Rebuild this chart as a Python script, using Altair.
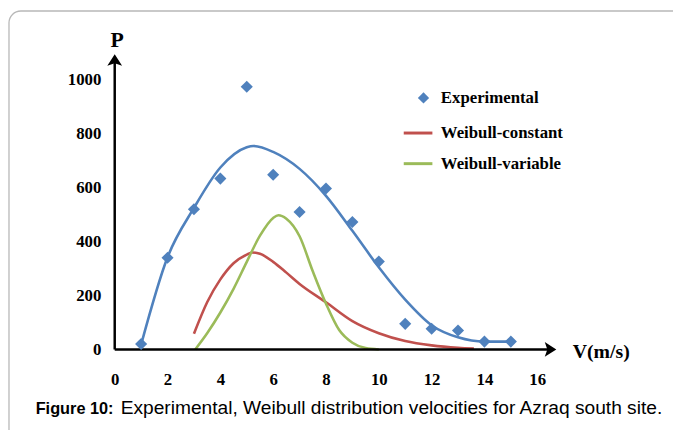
import altair as alt
import pandas as pd

# ---- data ----
exp_v = [1, 2, 3, 4, 5, 6, 7, 8, 9, 10, 11, 12, 13, 14, 15]
exp_p = [20, 340, 520, 634, 975, 648, 510, 597, 473, 326, 95, 77, 70, 29, 29]

fit_v = [1, 2, 3, 4, 5, 5.25, 6, 7, 8, 9, 10, 11, 12, 13, 14, 15]
fit_p = [18, 342, 525, 675, 750, 755, 733, 670, 570, 440, 305, 185, 90, 45, 29, 29]

wc_v = [3, 3.5, 4, 4.5, 5, 5.2, 5.5, 6, 6.5, 7, 8, 9, 10, 11, 12, 13, 13.6]
wc_p = [58, 175, 260, 320, 352, 360, 355, 325, 285, 243, 175, 105, 60, 31, 15, 6, 3]

wv_v = [3.05, 3.5, 4, 4.5, 5, 5.5, 6, 6.2, 6.5, 7, 7.5, 8, 8.5, 9, 9.5, 10]
wv_p = [0, 60, 137, 225, 325, 422, 488, 498, 485, 420, 290, 170, 72, 25, 5, 0]

x_ticks = [0, 2, 4, 6, 8, 10, 12, 14, 16]
y_ticks = [0, 200, 400, 600, 800, 1000]

names = ["Experimental", "Weibull-constant", "Weibull-variable"]
BLUE, RED, GREEN = "#4F81BD", "#C0504D", "#9BBB59"

exp_df = pd.DataFrame({"v": exp_v, "p": exp_p, "kind": names[0]})
fit_df = pd.DataFrame({"v": fit_v, "p": fit_p})
wb_df = pd.concat([
    pd.DataFrame({"v": wc_v, "p": wc_p, "series": names[1]}),
    pd.DataFrame({"v": wv_v, "p": wv_p, "series": names[2]}),
])

SERIF = "Liberation Serif"
SANS = "Liberation Sans"

xscale = alt.Scale(domain=[0, 16.8], nice=False, zero=False)
yscale = alt.Scale(domain=[0, 1100], nice=False)
xaxis = alt.Axis(values=x_ticks, format="d", domain=False, ticks=False, tickSize=0, grid=False,
                 labelFont=SERIF, labelFontWeight="bold", labelFontSize=17, labelColor="black",
                 labelPadding=22, labelFlush=False, labelOverlap=False,
                 title="V(m/s)", titleX=463, titleY=8, titleAlign="left", titleBaseline="alphabetic",
                 titleAngle=0, titleFont=SERIF, titleFontWeight="bold", titleFontSize=20, titleColor="black")
yaxis = alt.Axis(values=y_ticks, format="d", domain=False, ticks=False, tickSize=0, grid=False,
                 labelFont=SERIF, labelFontWeight="bold", labelFontSize=17, labelColor="black",
                 labelPadding=14, labelFlush=False, labelOverlap=False,
                 title="P", titleX=2, titleY=-7, titleAlign="center", titleBaseline="alphabetic",
                 titleAngle=0, titleFont=SERIF, titleFontWeight="bold", titleFontSize=22, titleColor="black")

def X(field="v"):
    return alt.X(f"{field}:Q", scale=xscale, axis=xaxis)

def Y(field="p"):
    return alt.Y(f"{field}:Q", scale=yscale, axis=yaxis)

one = pd.DataFrame({"a": [0]})

frame = alt.Chart(one).mark_rect(fillOpacity=0, stroke="#b8b8b8", strokeWidth=1.3, cornerRadius=12).encode(
    x=alt.value(-107), x2=alt.value(900), y=alt.value(-42.5), y2=alt.value(800))

AX_X_END = 16.46
AX_Y_END = 1070
yline = alt.Chart(pd.DataFrame({"v": [0], "p": [0], "p2": [AX_Y_END]})).mark_rule(
    color="black", strokeWidth=2.5).encode(x=X(), y=Y(), y2="p2:Q")
xline = alt.Chart(pd.DataFrame({"v": [0], "v2": [AX_X_END], "p": [0]})).mark_rule(
    color="black", strokeWidth=2.5).encode(x=X(), x2="v2:Q", y=Y())
up_arrow = alt.Chart(pd.DataFrame({"v": [0], "p": [AX_Y_END]})).mark_point(
    shape="M0,-1L1.07,0.67L0,0.3L-1.07,0.67Z", filled=True, color="black", opacity=1, size=196).encode(x=X(), y=Y())
right_arrow = alt.Chart(pd.DataFrame({"v": [AX_X_END], "p": [0]})).mark_point(
    shape="M1,0L-0.67,1.07L-0.3,0L-0.67,-1.07Z", filled=True, color="black", opacity=1, size=196).encode(x=X(), y=Y())

fit_line = alt.Chart(fit_df).mark_line(color=BLUE, strokeWidth=2.6, interpolate="monotone").encode(
    x=X(), y=Y())

wb_lines = alt.Chart(wb_df).mark_line(strokeWidth=2.6, interpolate="monotone").encode(
    x=X(), y=Y(),
    color=alt.Color("series:N", scale=alt.Scale(domain=names[1:], range=[RED, GREEN]),
                    legend=alt.Legend(orient="none", legendX=291, legendY=65, title=None, padding=0,
                                      symbolType="stroke", symbolSize=841, symbolStrokeWidth=3,
                                      rowPadding=7, labelOffset=7,
                                      labelFont=SERIF, labelFontWeight="bold", labelFontSize=17,
                                      labelColor="black")),
    detail="series:N")

points = alt.Chart(exp_df).mark_point(filled=True, color=BLUE, opacity=1, size=150).encode(
    x=X(), y=Y(),
    shape=alt.Shape("kind:N", scale=alt.Scale(domain=names[:1], range=["diamond"]),
                    legend=alt.Legend(orient="none", legendX=304, legendY=37, title=None, padding=0,
                                      symbolFillColor=BLUE, symbolStrokeColor=BLUE, symbolStrokeWidth=0,
                                      symbolSize=130, labelOffset=9,
                                      labelFont=SERIF, labelFontWeight="bold", labelFontSize=17,
                                      labelColor="black")))

cap_bold = alt.Chart(one).mark_text(text="Figure 10:", font=SANS, fontWeight="bold",
                                    fontSize=16.5, align="left", baseline="alphabetic", color="black").encode(
    x=alt.value(-80), y=alt.value(365))
cap_rest = alt.Chart(one).mark_text(text="Experimental, Weibull distribution velocities for  Azraq south site.",
                                    font=SANS, fontSize=19.4, align="left",
                                    baseline="alphabetic", color="black").encode(
    x=alt.value(6), y=alt.value(365))

chart = alt.layer(frame, fit_line, wb_lines, yline, xline, up_arrow, right_arrow, points,
                  cap_bold, cap_rest).properties(
    width=449, height=300,
    padding={"left": 108, "top": 43, "right": 116, "bottom": 79},
    autosize=alt.AutoSizeParams(type="none"),
    background="white",
).configure(font=SERIF).configure_view(strokeWidth=0).configure_legend(
    labelFont=SERIF, labelFontWeight="bold", labelFontSize=17, labelColor="black")

chart.save("out.html", embed_options={"renderer": "svg", "actions": False})
